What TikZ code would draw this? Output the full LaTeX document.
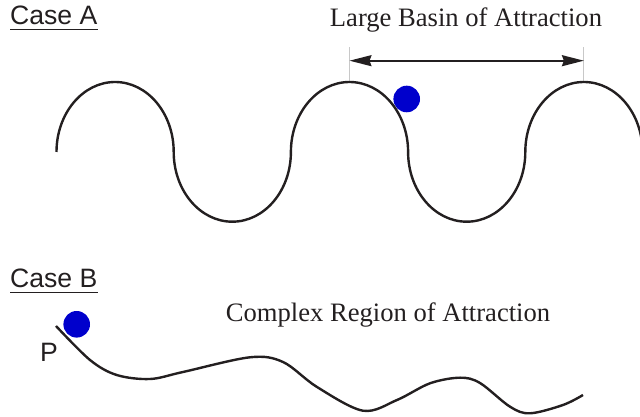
\documentclass[tikz,border=0pt]{standalone}
\usepackage{fontspec}
\setmainfont{Liberation Serif}
\newfontfamily\labelsans{Liberation Sans}
\usetikzlibrary{arrows.meta}
\definecolor{ink}{RGB}{35,31,32}
\definecolor{ballblue}{RGB}{0,0,204}
\definecolor{tickgray}{RGB}{200,200,200}
\tikzset{
  wave/.style={draw=ink, line width=2.4pt},
  ball/.style={circle, fill=ballblue, inner sep=0pt, minimum size=26.6pt},
  serifl/.style={inner sep=0pt, text=ink, font=\fontsize{26.6}{30}\selectfont},
  sansl/.style={inner sep=0pt, text=ink, font=\labelsans\fontsize{26.6}{30}\selectfont},
  uline/.style={draw=ink, line width=1.5pt},
  ticks/.style={draw=tickgray, line width=1pt},
  dimarrow/.style={draw=ink, line width=1.8pt, {Stealth[length=22pt,width=11pt,inset=2pt]}-{Stealth[length=22pt,width=11pt,inset=2pt]}}
}
\begin{document}
\begin{tikzpicture}[x=1pt,y=1pt]
\useasboundingbox (0,0) rectangle (640,417);
% Case A
\node[sansl, anchor=base west] (caseA) at (10,392) {Case A};
\draw[uline] ([yshift=-4.5pt]caseA.base west) -- ([yshift=-4.5pt]caseA.base east);
\node[serifl, anchor=base] (basin) at (466,390.3) {Large Basin of Attraction};
\coordinate (topL) at (349.5,335);
\coordinate (topR) at (583.9,335);
\coordinate (tickL) at (349.5,370);
\coordinate (tickR) at (583.9,370);
\draw[ticks] (topL) -- (tickL);
\draw[ticks] (topR) -- (tickR);
\coordinate (arrL) at (349.5,356.3);
\coordinate (arrR) at (583.9,356.3);
\draw[dimarrow] (arrL) -- (arrR);
\begin{scope}
\clip (0,0) rectangle (640,417);
\draw[wave] (56.5,265)
  arc[start angle=180,end angle=0,x radius=58.6,y radius=70]
  arc[start angle=180,end angle=360,x radius=58.6,y radius=69.7]
  arc[start angle=180,end angle=0,x radius=58.6,y radius=70]
  arc[start angle=180,end angle=360,x radius=58.6,y radius=69.7]
  arc[start angle=180,end angle=0,x radius=58.6,y radius=70];
\end{scope}
\node[ball] (ballA) at (406.7,318) {};
% Case B
\node[sansl, anchor=base west] (caseB) at (10,129.3) {Case B};
\draw[uline] ([yshift=-4.6pt]caseB.base west) -- ([yshift=-4.6pt]caseB.base east);
\node[serifl, anchor=base] (complex) at (388,95.3) {Complex Region of Attraction};
\node[sansl, anchor=base west] (P) at (40,55) {P};
\draw[wave] plot[smooth, tension=0.55] coordinates {
  (56,91) (90,57) (116.7,42) (150,38) (183,45) (250,59.7) (283,55)
  (317,30) (363,6.3) (397,17) (430,33.7) (460,39.3) (480,34)
  (510,10.3) (530,3.7) (563,12) (583,22)};
\node[ball] (ballB) at (76.7,92.7) {};
\end{tikzpicture}
\end{document}
